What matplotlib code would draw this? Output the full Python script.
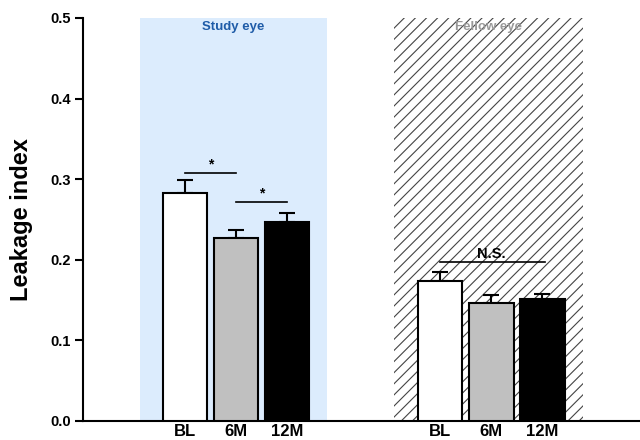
import matplotlib
matplotlib.use("Agg")
import matplotlib.pyplot as plt
from matplotlib.patches import Rectangle

plt.rcParams["font.family"] = ["Liberation Sans", "DejaVu Sans"]
plt.rcParams["hatch.linewidth"] = 0.8

# data
timepoints = ["BL", "6M", "12M"]
study_mean = [0.283, 0.227, 0.247]
study_err = [0.016, 0.010, 0.011]
fellow_mean = [0.174, 0.146, 0.151]
fellow_err = [0.011, 0.010, 0.007]
bar_colors = ["white", "#c0c0c0", "black"]
yticks = [0.0, 0.1, 0.2, 0.3, 0.4, 0.5]

study_x = [0, 1, 2]
fellow_x = [5, 6, 7]
width = 0.88

fig = plt.figure(figsize=(6.4, 4.4), dpi=100)
ax = fig.add_axes([0.1297, 0.0432, 0.8703, 0.916])

# background panels
ax.add_patch(Rectangle((-0.88, 0), 3.66, 0.503, facecolor="#dcecfd", edgecolor="none", zorder=0))
ax.add_patch(Rectangle((4.1, 0), 3.7, 0.505, facecolor="white", edgecolor="#444444",
                       hatch="///", linewidth=0, zorder=0))

for xs, means, errs in [(study_x, study_mean, study_err), (fellow_x, fellow_mean, fellow_err)]:
    ax.errorbar(xs, means, yerr=[[0] * 3, errs], fmt="none", ecolor="black",
                elinewidth=1.5, capsize=5.5, capthick=1.5, zorder=2)
    ax.bar(xs, means, width=width, color=bar_colors, edgecolor="black", linewidth=1.5, zorder=3)

# significance marks
ax.plot([0, 1], [0.308, 0.308], color="black", lw=1.2)
ax.text(0.5, 0.310, "*", ha="center", va="bottom", fontsize=10, fontweight="bold")
ax.plot([1, 2], [0.272, 0.272], color="black", lw=1.2)
ax.text(1.5, 0.274, "*", ha="center", va="bottom", fontsize=10, fontweight="bold")
ax.plot([5, 7.05], [0.197, 0.197], color="black", lw=1.2)
ax.text(6.0, 0.199, "N.S.", ha="center", va="bottom", fontsize=10.5, fontweight="bold")

ax.text(0.95, 0.489, "Study eye", ha="center", va="center", fontsize=9.5,
        fontweight="bold", color="#1f5ca8")
ax.text(5.95, 0.489, "Fellow eye", ha="center", va="center", fontsize=9.5,
        fontweight="bold", color="#999999")

ax.set_xlim(-2.0, 8.92)
ax.set_ylim(0, 0.5)
ax.set_yticks(yticks)
ax.set_yticklabels([f"{v:.1f}" for v in yticks], fontsize=10.5, fontweight="bold")
ax.set_xticks(study_x + fellow_x)
ax.set_xticklabels(timepoints * 2, fontsize=12, fontweight="bold")
ax.tick_params(axis="x", length=0, pad=2)
ax.tick_params(axis="y", length=6, width=1.5, pad=3)
ax.set_ylabel("Leakage index", fontsize=17, fontweight="bold", labelpad=12)

for s in ["top", "right"]:
    ax.spines[s].set_visible(False)
ax.spines["left"].set_linewidth(1.5)
ax.spines["bottom"].set_linewidth(1.5)
ax.patch.set_alpha(0)

fig.savefig("out.png", dpi=100)
